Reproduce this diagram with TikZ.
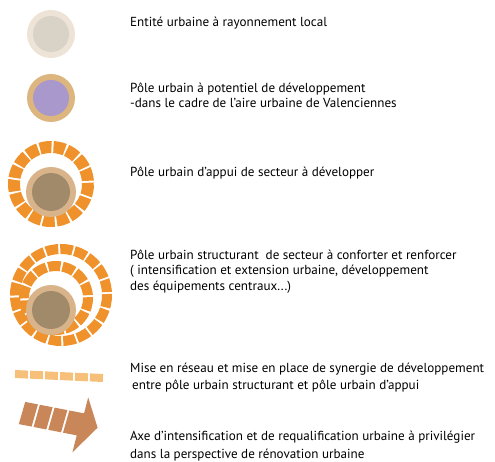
\documentclass[tikz,border=0pt]{standalone}
\usepackage{fontspec}
\setmainfont{PT Sans}
\definecolor{localout}{HTML}{EDE3D6}
\definecolor{localin}{HTML}{D8D2C7}
\definecolor{poleout}{HTML}{DDB57F}
\definecolor{polein}{HTML}{A898CB}
\definecolor{coreout}{HTML}{D9B48A}
\definecolor{corein}{HTML}{A08A6A}
\definecolor{ringorange}{HTML}{F0922B}
\definecolor{linkorange}{HTML}{F6C07A}
\definecolor{axebrown}{HTML}{C98658}

\begin{document}
\begin{tikzpicture}[x=1pt, y=-1pt,
    ring/.style={draw=ringorange, line width=#1},
    lab/.style={anchor=north west, inner sep=0pt, align=left,
                font=\fontsize{13.1}{15.5}\selectfont}]
\useasboundingbox (0,0) rectangle (495,462);

% symbols
\coordinate (c1) at (51,34);
\coordinate (c2) at (51,98);
\coordinate (c3) at (51,184);
\coordinate (d3) at (51,192);
\coordinate (c4) at (61,295);
\coordinate (e4) at (56,298);
\coordinate (d4) at (51,310);

\fill[localout] (c1) circle (24);
\fill[localin] (c1) circle (18);

\fill[poleout] (c2) circle (24);
\fill[polein] (c2) circle (18);

\draw[ring=12pt, dash pattern=on 11.6pt off 2pt] (c3) circle (37);
\fill[coreout] (d3) circle (25);
\fill[corein] (d3) circle (19);

\draw[ring=10pt, dash pattern=on 12.4pt off 2pt] (c4) circle (46);
\draw[ring=10pt, dash pattern=on 12.3pt off 2pt] (e4) circle (32);
\fill[coreout] (d4) circle (25);
\fill[corein] (d4) circle (19);

\coordinate (l1) at (15,374);
\coordinate (l2) at (103,378);
\draw[linkorange, line width=8pt, dash pattern=on 13pt off 2pt] (l1) -- (l2);

\begin{scope}[shift={(22,413)}, rotate=-11]
  \foreach \a in {0,15,30}
    \fill[axebrown] (\a+1,-11.5) -- (\a+14,-11.5) -- (\a+12,11.5) -- (\a-1,11.5) -- cycle;
  \fill[axebrown] (46,-11.5) -- (61,-11.5) -- (62,-28) -- (77,0) -- (57,29)
                  -- (58,11.5) -- (44,11.5) -- cycle;
\end{scope}

% labels
\node[lab] (entite) at (130,17.3) {Entité urbaine à rayonnement local};
\node[lab] (potentiel) at (130,82.3) {Pôle urbain à potentiel de développement\\
  -dans le cadre de l’aire urbaine de Valenciennes};
\node[lab] (appui) at (130,166.3) {Pôle urbain d’appui de secteur à développer};
\node[lab] (structurant) at (130,249.3) {Pôle urbain structurant~ de secteur à conforter et renforcer\\
  ( intensification et extension urbaine, développement\\
  des équipements centraux...)};
\node[lab] (reseau) at (130,363.3) {Mise en réseau et mise en place de synergie de développement\\[1.5pt]
  \hspace*{2pt}entre pôle urbain structurant et pôle urbain d’appui};
\node[lab] (axe) at (130,431.3) {Axe d’intensification et de requalification urbaine à privilégier\\[2pt]
  dans la perspective de rénovation urbaine};
\end{tikzpicture}
\end{document}
